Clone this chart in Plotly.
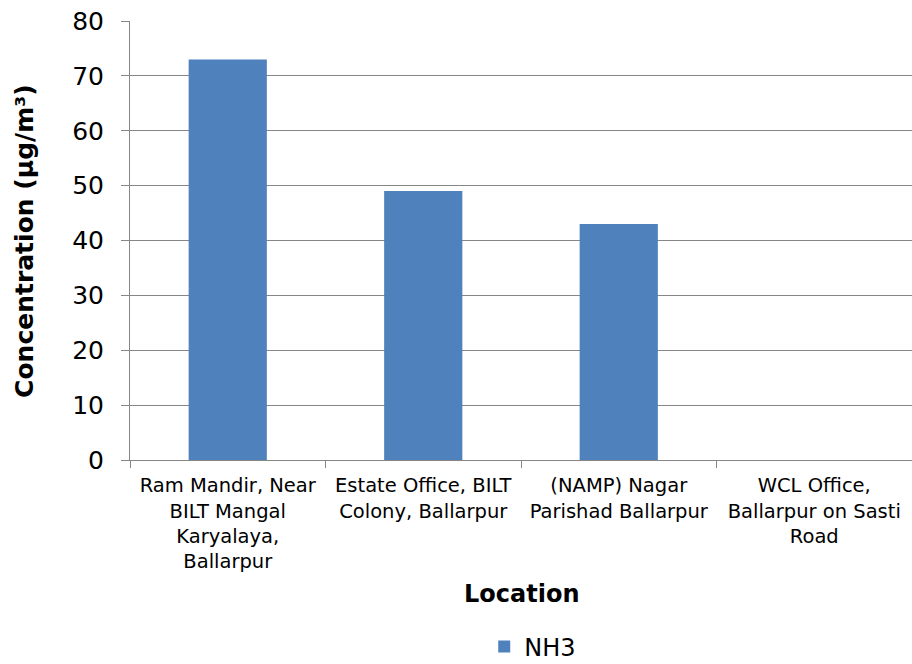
import plotly.graph_objects as go

# Sampling locations and measured ammonia concentrations
locations = [
    "Ram Mandir, Near<br>BILT Mangal<br>Karyalaya,<br>Ballarpur",
    "Estate Office, BILT<br>Colony, Ballarpur",
    "(NAMP) Nagar<br>Parishad Ballarpur",
    "WCL Office,<br>Ballarpur on Sasti<br>Road",
]
nh3 = [73, 49, 43, None]

y_ticks = [0, 10, 20, 30, 40, 50, 60, 70, 80]

FONT = "DejaVu Sans, Verdana, sans-serif"
AXIS_GREY = "#868686"

fig = go.Figure()
fig.add_trace(go.Bar(
    x=locations,
    y=nh3,
    name="NH3",
    marker=dict(color="#4F81BD", line=dict(width=0)),
))

fig.update_layout(
    width=912,
    height=664,
    margin=dict(l=130, r=0, t=21, b=204, autoexpand=False),
    paper_bgcolor="white",
    plot_bgcolor="white",
    bargap=0.6,
    font=dict(family=FONT, color="black"),
    showlegend=True,
    legend=dict(
        orientation="h",
        x=0.515, xanchor="center",
        y=-0.426, yanchor="middle",
        font=dict(size=24, family=FONT),
        itemwidth=30,
        borderwidth=0,
    ),
    xaxis=dict(
        type="category",
        tickson="boundaries",
        ticks="outside",
        ticklen=7,
        tickcolor=AXIS_GREY,
        showline=True,
        linecolor=AXIS_GREY,
        linewidth=1,
        showgrid=False,
        tickfont=dict(size=19.5, family=FONT),
        tickangle=0,
        ticklabelstandoff=8,
        automargin=False,
    ),
    yaxis=dict(
        range=[0, 80],
        tickvals=y_ticks,
        ticks="outside",
        ticklen=8,
        tickcolor=AXIS_GREY,
        showline=True,
        linecolor=AXIS_GREY,
        linewidth=1,
        showgrid=True,
        gridcolor=AXIS_GREY,
        gridwidth=1,
        zeroline=False,
        tickfont=dict(size=25, family=FONT),
        ticklabelstandoff=12,
        automargin=False,
    ),
    annotations=[
        dict(
            text="<b>Location</b>",
            xref="paper", yref="paper",
            x=0.5, y=-0.305,
            xanchor="center", yanchor="middle",
            showarrow=False,
            font=dict(size=24, family=FONT),
        ),
        dict(
            text="<b>Concentration (µg/m³)</b>",
            xref="paper", yref="paper",
            x=-0.135, y=0.5,
            xanchor="center", yanchor="middle",
            textangle=-90,
            showarrow=False,
            font=dict(size=25, family=FONT),
        ),
    ],
)

fig.write_html("out.html")
